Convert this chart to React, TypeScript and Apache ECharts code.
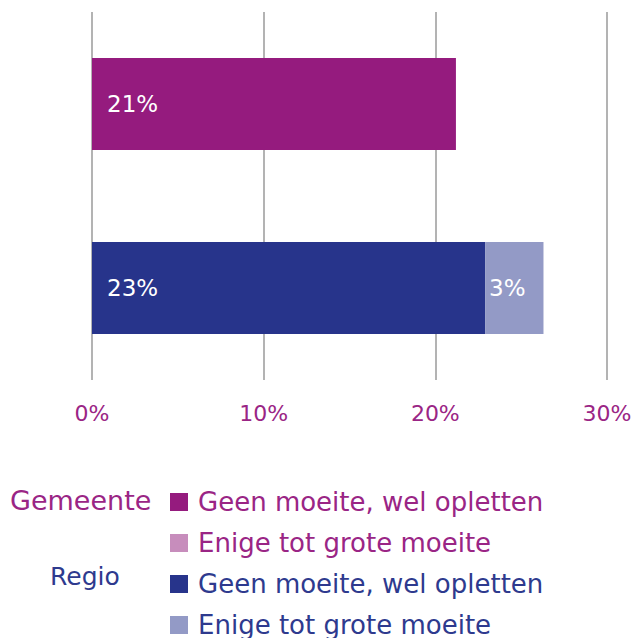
import React, { useEffect, useRef } from "react";
import * as echarts from "echarts";

const categories = ["Gemeente", "Regio"];
const seriesLabels = [
  "Geen moeite, wel opletten",
  "Enige tot grote moeite",
  "Geen moeite, wel opletten",
  "Enige tot grote moeite",
];
const gemeenteGeen = [21.2, null];
const gemeenteEnige = [null, null];
const regioGeen = [null, 22.9];
const regioEnige = [null, 3.4];
const xTicks = [0, 10, 20, 30];

const colors = ["#951B7E", "#C78DBC", "#27348B", "#939AC6"];
const textColors = ["#9A2585", "#9A2585", "#2E3A8E", "#2E3A8E"];
const FONT = "DejaVu Sans";

export default function App() {
  const ref = useRef<HTMLDivElement>(null);
  useEffect(() => {
    document.body.style.margin = "0";
    const chart = echarts.init(ref.current!, null, { renderer: "svg" });
    const datasets = [gemeenteGeen, gemeenteEnige, regioGeen, regioEnige];
    const names = seriesLabels.map((l, i) => l + " ".repeat(i));
    const labelDistances = [15, 4, 15, 4];
    chart.setOption({
      animation: false,
      grid: { left: 92, right: 28, top: 12, bottom: 258 },
      xAxis: {
        type: "value",
        min: xTicks[0],
        max: xTicks[xTicks.length - 1],
        interval: 10,
        axisLine: { show: false },
        axisTick: { show: false },
        splitLine: { show: true, lineStyle: { color: "#B3B3B3", width: 2 } },
        axisLabel: {
          formatter: (v: number) => v + "%",
          color: "#9A2585",
          fontFamily: FONT,
          fontSize: 22,
          margin: 22,
        },
      },
      yAxis: {
        type: "category",
        data: categories,
        inverse: true,
        axisLine: { show: false },
        axisTick: { show: false },
        axisLabel: { show: false },
      },
      legend: {
        orient: "vertical",
        left: 170,
        top: 489,
        height: 160,
        padding: 0,
        itemWidth: 18,
        itemHeight: 18,
        itemGap: 15,
        icon: "rect",
        data: names.map((n, i) => ({
          name: n,
          textStyle: { color: textColors[i] },
        })),
        formatter: (n: string) => n.trim(),
        textStyle: {
          fontFamily: FONT,
          fontSize: 26,
          lineHeight: 24,
          padding: [0, 0, 0, 5],
        },
      },
      graphic: [
        {
          type: "text",
          left: 10,
          top: 487,
          style: { text: categories[0], fill: textColors[0], font: `27px '${FONT}'` },
        },
        {
          type: "text",
          left: 50,
          top: 564,
          style: { text: categories[1], fill: textColors[2], font: `25px '${FONT}'` },
        },
      ],
      series: datasets.map((d, i) => ({
        name: names[i],
        type: "bar",
        stack: "total",
        barWidth: "50%",
        data: d,
        itemStyle: { color: colors[i] },
        label: {
          show: true,
          position: "insideLeft",
          distance: labelDistances[i],
          color: "#FFFFFF",
          fontFamily: FONT,
          fontSize: 23,
          formatter: (p: any) => Math.round(p.value) + "%",
        },
      })),
    });
    return () => chart.dispose();
  }, []);
  return <div ref={ref} style={{ width: 635, height: 638 }} />;
}
